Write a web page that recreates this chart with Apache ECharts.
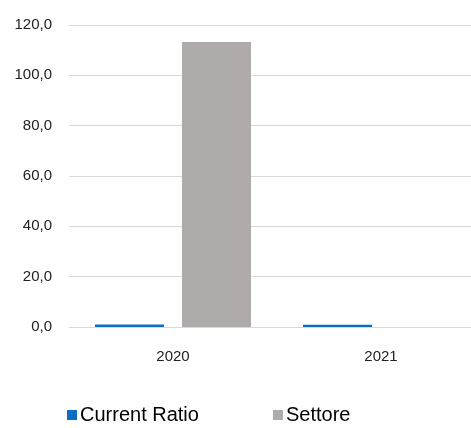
<!DOCTYPE html>
<html>
<head>
<meta charset="utf-8">
<script src="https://cdn.jsdelivr.net/npm/echarts@6/dist/echarts.min.js"></script>
<style>
  html, body { margin: 0; padding: 0; background: #fff; }
  #chart { width: 471px; height: 428px; }
</style>
</head>
<body>
<div id="chart"></div>
<script>
  const categories = ['2020', '2021']
  const currentRatio = [1.0, 0.9]
  const settore = [113.2, null]
  const seriesNames = ['Current Ratio', 'Settore']

  const font = '"Liberation Sans Narrow", "Liberation Sans", Arial, sans-serif'
  const fmt = v => v.toFixed(1).replace('.', ',')

  const chart = echarts.init(document.getElementById('chart'))
  chart.setOption({
    animation: false,
    color: ['#0a6fc2', '#afabaa'],
    legend: {
      bottom: -2,
      left: 62,
      itemGap: 74,
      itemWidth: 10,
      itemHeight: 10,
      icon: 'rect',
      selectedMode: false,
      textStyle: { fontFamily: font, fontSize: 20, color: '#000', padding: [0, 0, 0, -2] },
      data: seriesNames,
    },
    grid: {
      left: 69,
      width: 416,
      top: 25,
      bottom: 101,
      outerBoundsMode: 'none',
    },
    xAxis: {
      type: 'category',
      data: categories,
      axisLine: { lineStyle: { color: '#d9d9d9', width: 1 } },
      axisTick: { show: false },
      axisLabel: { fontFamily: font, fontSize: 15, color: '#222', margin: 22 },
    },
    yAxis: {
      type: 'value',
      min: 0,
      max: 120,
      interval: 20,
      axisLine: { show: false },
      axisTick: { show: false },
      splitLine: { lineStyle: { color: '#d9d9d9' } },
      axisLabel: { fontFamily: font, fontSize: 15, color: '#222', margin: 17, formatter: fmt },
    },
    series: [
      {
        name: seriesNames[0],
        type: 'bar',
        data: currentRatio,
        barGap: '26%',
        barCategoryGap: '25%',
      },
      {
        name: seriesNames[1],
        type: 'bar',
        data: settore,
      },
    ],
  })
</script>
</body>
</html>
